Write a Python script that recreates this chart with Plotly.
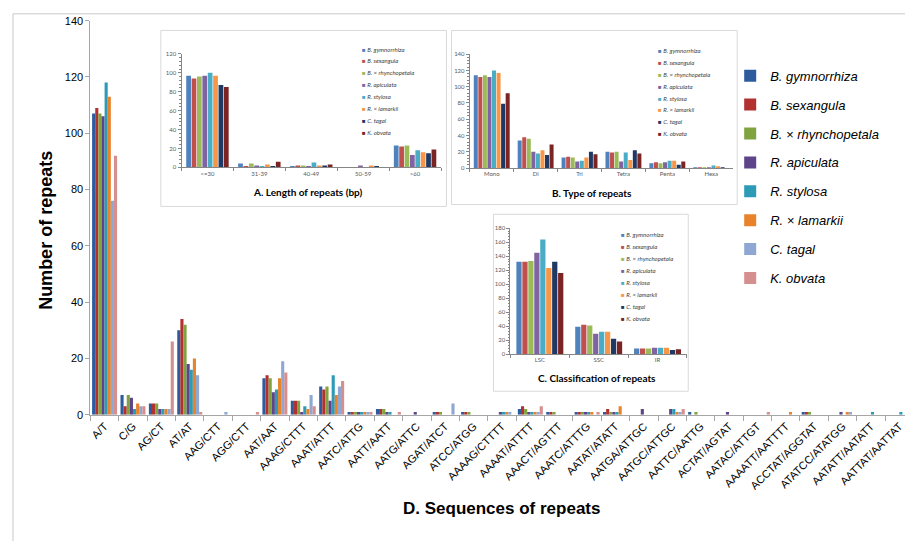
import plotly.graph_objects as go

W, H = 905, 541

species = ["B. gymnorrhiza", "B. sexangula", "B. × rhynchopetala", "R. apiculata",
           "R. stylosa", "R. × lamarkii", "C. tagal", "K. obvata"]

main_colors = ["#2D5B9E", "#B2302D", "#7FA33F", "#5E4589",
               "#2E9BB6", "#E9832B", "#8EA7D3", "#D58F8E"]
inset_colors = ["#4F81BD", "#C0504D", "#9BBB59", "#8064A2",
                "#4BACC6", "#F79646", "#1F3864", "#7B2424"]

# D. sequences of repeats
motifs = ["A/T", "C/G", "AG/CT", "AT/AT", "AAG/CTT", "AGG/CTT", "AAT/AAT",
          "AAAG/CTTT", "AAAT/ATTT", "AATC/ATTG", "AATT/AATT", "AATG/ATTC",
          "AGAT/ATCT", "ATCC/ATGG", "AAAAG/CTTTT", "AAAAT/ATTTT", "AAACT/AGTTT",
          "AAATC/ATTTG", "AATAT/ATATT", "AATGA/ATTGC", "AATGC/ATTGC", "AATTC/AATTG",
          "ACTAT/AGTAT", "AATAC/ATTGT", "AAAATT/AATTTT", "ACCTAT/AGGTAT",
          "ATATCC/ATATGG", "AATATT/AATATT", "AATTAT/AATTAT"]

gymnorrhiza_motifs = [107, 7, 4, 30, 0, 0, 13, 5, 10, 1, 2, 0, 1, 1, 0, 2, 1, 1, 1, 0, 0, 1, 0, 0, 0, 1, 0, 0, 0]
sexangula_motifs   = [109, 3, 4, 34, 0, 0, 14, 5, 9, 1, 2, 0, 1, 1, 0, 3, 1, 1, 2, 0, 0, 0, 0, 0, 0, 1, 0, 0, 0]
rhynchopetala_motifs = [107, 7, 4, 32, 0, 0, 13, 5, 10, 1, 2, 0, 1, 1, 0, 2, 1, 1, 1, 0, 0, 1, 0, 0, 0, 1, 0, 0, 0]
apiculata_motifs   = [106, 6, 2, 18, 0, 0, 8, 1, 5, 1, 1, 1, 0, 0, 1, 1, 0, 1, 1, 2, 2, 0, 1, 0, 0, 0, 1, 0, 0]
stylosa_motifs     = [118, 2, 2, 16, 0, 0, 9, 3, 14, 1, 1, 0, 0, 0, 1, 1, 0, 1, 1, 0, 2, 0, 0, 0, 0, 0, 0, 1, 1]
lamarkii_motifs    = [113, 4, 2, 20, 0, 0, 13, 2, 7, 1, 0, 0, 0, 0, 1, 1, 0, 1, 3, 0, 1, 0, 0, 0, 1, 0, 1, 0, 0]
tagal_motifs       = [76, 3, 2, 14, 1, 0, 19, 7, 10, 1, 0, 0, 4, 0, 1, 1, 0, 0, 0, 0, 1, 0, 0, 0, 0, 0, 1, 0, 0]
obvata_motifs      = [92, 3, 26, 1, 0, 1, 15, 3, 12, 1, 1, 0, 0, 0, 0, 3, 0, 1, 0, 0, 2, 0, 0, 1, 0, 0, 0, 0, 0]
motif_counts = [gymnorrhiza_motifs, sexangula_motifs, rhynchopetala_motifs, apiculata_motifs,
                stylosa_motifs, lamarkii_motifs, tagal_motifs, obvata_motifs]

# A. length of repeats (bp)
length_classes = ["<=30", "31-39", "40-49", "50-59", ">60"]
length_counts = [
    [97, 4, 1, 0, 23],
    [94, 1, 2, 0, 22],
    [96, 4, 2, 0, 23],
    [97, 2, 1, 2, 13],
    [100, 1, 5, 0, 18],
    [97, 3, 2, 2, 16],
    [87, 1, 2, 1, 15],
    [85, 6, 3, 0, 19],
]

# B. type of repeats
repeat_types = ["Mono", "Di", "Tri", "Tetra", "Penta", "Hexa"]
type_counts = [
    [114, 34, 13, 20, 6, 1],
    [112, 38, 14, 19, 7, 1],
    [114, 36, 13, 20, 6, 1],
    [112, 20, 8, 8, 7, 1],
    [120, 18, 9, 19, 9, 3],
    [117, 22, 13, 10, 9, 2],
    [79, 16, 20, 22, 4, 1],
    [92, 29, 17, 18, 8, 0],
]

# C. classification of repeats
regions = ["LSC", "SSC", "IR"]
region_counts = [
    [132, 39, 8],
    [132, 42, 8],
    [133, 41, 8],
    [145, 29, 9],
    [164, 32, 9],
    [123, 32, 9],
    [132, 22, 6],
    [116, 18, 7],
]


def fx(px):
    return px / W


def fy(py):
    return 1 - py / H


fig = go.Figure()


def add_bars(cats, counts, colors, xa, ya, fill, gap, legend):
    slot = fill / len(counts)
    for j, (name, vals, col) in enumerate(zip(species, counts, colors)):
        fig.add_trace(go.Bar(
            x=cats, y=vals, name=name, marker=dict(color=col, line=dict(width=0)),
            width=slot * (1 - gap), offset=-fill / 2 + j * slot + slot * gap / 2,
            xaxis=xa, yaxis=ya, showlegend=legend, legendgroup=name,
            hovertemplate=name + ": %{y}<extra>%{x}</extra>"))


add_bars(motifs, motif_counts, main_colors, "x", "y", 0.88, 0.0, True)
add_bars(length_classes, length_counts, inset_colors, "x2", "y2", 0.83, 0.12, False)
add_bars(repeat_types, type_counts, inset_colors, "x3", "y3", 0.83, 0.12, False)
add_bars(regions, region_counts, inset_colors, "x4", "y4", 0.81, 0.12, False)

MAIN_FONT = "Liberation Sans, Arial, sans-serif"
INSET_FONT = "Lato, Carlito, sans-serif"
AXIS_GREY = "#A6A6A6"
INSET_TXT = "#595959"

shapes = []
annotations = []

# outer chart frame
shapes.append(dict(type="rect", xref="paper", yref="paper",
                   x0=fx(12), x1=fx(915), y0=fy(550), y1=fy(8),
                   line=dict(color="#C8C8C8", width=1), fillcolor="rgba(0,0,0,0)", layer="below"))


def inset_axes(xdom, ydom, yrange, anchor_x, anchor_y, ncat):
    xa = dict(domain=[fx(xdom[0]), fx(xdom[1])], anchor=anchor_y, type="category",
              range=[-0.5, ncat - 0.5], showline=True, linecolor="#868686", linewidth=1,
              ticks="outside", tickson="boundaries", ticklen=3, tickcolor="#868686",
              tickfont=dict(family=INSET_FONT, size=6, color=INSET_TXT),
              showgrid=False, zeroline=False, fixedrange=True)
    ya = dict(domain=[fy(ydom[0]), fy(ydom[1])], anchor=anchor_x, range=yrange, dtick=20,
              showline=True, linecolor="#868686", linewidth=1, ticks="outside", ticklen=3,
              tickcolor="#868686", minor=dict(ticks="outside", ticklen=1.5, dtick=4,
                                                 tickcolor="#868686"),
              tickfont=dict(family=INSET_FONT, size=6, color=INSET_TXT),
              showgrid=False, zeroline=False, fixedrange=True)
    return xa, ya


xa2, ya2 = inset_axes((180.7, 440.5), (165, 49), [0, 120], "x2", "y2", len(length_classes))
xa3, ya3 = inset_axes((469.3, 733), (165.7, 49.3), [0, 140], "x3", "y3", len(repeat_types))
xa4, ya4 = inset_axes((510, 686.7), (356, 227.3), [0, 180], "x4", "y4", len(regions))

# inset panels: frame, title and legend
panels = [
    dict(box=(160, 25, 446, 205), title="A. Length of repeats (bp)", tx=307, ty=190,
         lx=359, ly=44),
    dict(box=(451, 25, 737, 203), title="B. Type of repeats", tx=592, ty=191,
         lx=656, ly=45.3),
    dict(box=(493, 213, 688, 394), title="C. Classification of repeats", tx=597, ty=380,
         lx=619, ly=234),
]
for p in panels:
    x0, y0, x1, y1 = p["box"]
    shapes.append(dict(type="rect", xref="paper", yref="paper",
                       x0=fx(x0), x1=fx(x1), y0=fy(y1), y1=fy(y0),
                       line=dict(color="#D9D9D9", width=1), fillcolor="white", layer="below"))
    annotations.append(dict(xref="paper", yref="paper", x=fx(p["tx"]), y=fy(p["ty"]),
                            text="<b>" + p["title"] + "</b>", showarrow=False,
                            xanchor="center", yanchor="middle",
                            font=dict(family=INSET_FONT, size=10, color="#000000")))
    for j, (name, col) in enumerate(zip(species, inset_colors)):
        annotations.append(dict(xref="paper", yref="paper", x=fx(p["lx"]),
                                y=fy(p["ly"] + j * 12.2),
                                text="<span style='color:%s'>■</span> <i>%s</i>" % (col, name),
                                showarrow=False, xanchor="left", yanchor="middle",
                                font=dict(family=INSET_FONT, size=6, color="#404040")))

# main axis titles
annotations.append(dict(xref="paper", yref="paper", x=fx(45), y=fy(229),
                        text="<b>Number of repeats</b>", textangle=-90, showarrow=False,
                        xanchor="center", yanchor="middle",
                        font=dict(family=MAIN_FONT, size=18, color="#000000")))
annotations.append(dict(xref="paper", yref="paper", x=fx(501), y=fy(514),
                        text="<b>D. Sequences of repeats</b>", showarrow=False,
                        xanchor="center", yanchor="middle",
                        font=dict(family=MAIN_FONT, size=17, color="#000000")))

fig.update_layout(
    width=W, height=H, margin=dict(l=0, r=0, t=0, b=0),
    paper_bgcolor="white", plot_bgcolor="rgba(0,0,0,0)",
    barmode="overlay",
    font=dict(family=MAIN_FONT, color="#000000"),
    xaxis=dict(domain=[fx(89.5), 1], anchor="y", type="category", range=[-0.5, 28.2],
               tickangle=-45, ticks="outside", tickson="boundaries", ticklen=5,
               tickcolor=AXIS_GREY, showline=True, linecolor=AXIS_GREY, linewidth=1,
               tickfont=dict(family=MAIN_FONT, size=11, color="#000000"),
               showgrid=False, zeroline=False, fixedrange=True),
    yaxis=dict(domain=[fy(418), fy(15)], anchor="x", range=[0, 140], dtick=20,
               ticks="outside", ticklen=4, tickcolor=AXIS_GREY, showline=True,
               linecolor=AXIS_GREY, linewidth=1,
               tickfont=dict(family=MAIN_FONT, size=11, color="#000000"),
               showgrid=False, zeroline=False, fixedrange=True),
    xaxis2=xa2, yaxis2=ya2, xaxis3=xa3, yaxis3=ya3, xaxis4=xa4, yaxis4=ya4,
    legend=dict(x=fx(730), y=fy(56), xanchor="left", yanchor="top",
                font=dict(family=MAIN_FONT, size=13, color="#000000", style="italic"),
                tracegroupgap=9, bgcolor="rgba(0,0,0,0)", itemclick=False,
                itemdoubleclick=False),
    shapes=shapes, annotations=annotations,
)

fig.write_html("out.html")
